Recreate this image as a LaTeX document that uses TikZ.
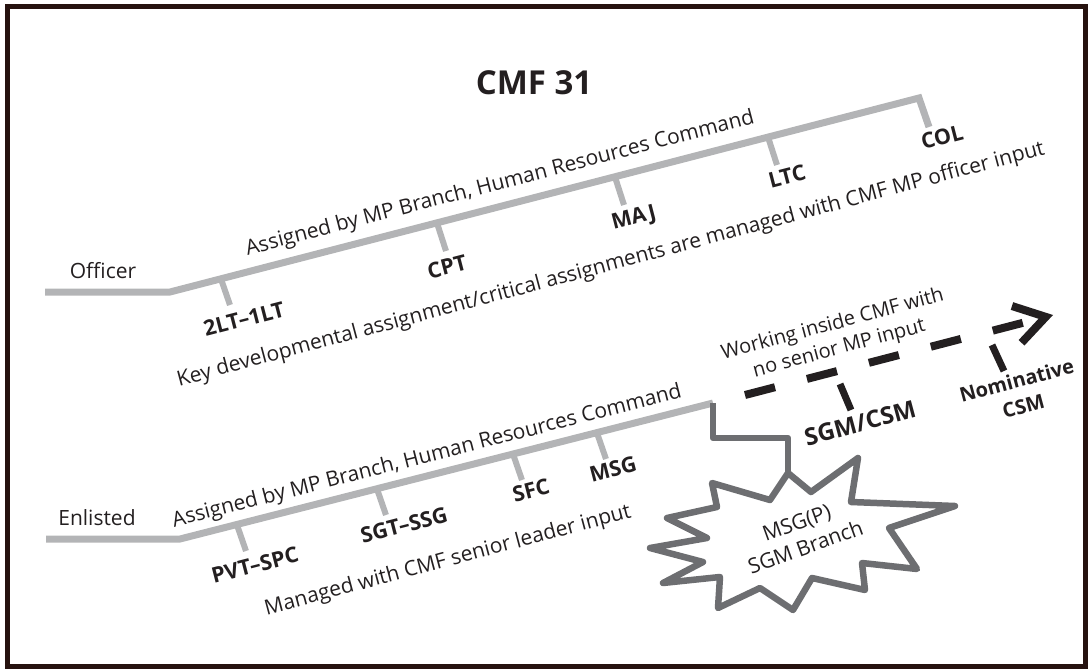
\documentclass[tikz,border=0pt]{standalone}
\usepackage{fontspec}
\setmainfont{Open Sans}
\usetikzlibrary{arrows.meta}
\definecolor{lgray}{HTML}{B3B4B6}
\definecolor{dgray}{HTML}{6D6E71}
\definecolor{ink}{HTML}{231F20}
\definecolor{frame}{HTML}{26120F}

\begin{document}
\begin{tikzpicture}[x=1pt,y=-1pt,
  track/.style={draw=lgray,line width=7pt},
  rung/.style={draw=lgray,line width=6pt},
  link/.style={draw=dgray,line width=6.5pt,line join=round},
  dashline/.style={draw=ink,line width=8pt,dash pattern=on 31pt off 33pt},
  rank/.style={font=\bfseries\fontsize{21.5}{26}\selectfont,text=ink,align=center},
  note/.style={font=\fontsize{21}{25}\selectfont,text=ink,align=center}]
\tikzstyle{every node}+=[inner sep=0pt]
\useasboundingbox (0,0) rectangle (1088,669);
\draw [frame,line width=5pt] (7.5,6.5) rectangle (1085.5,666);

\node [font=\bfseries\fontsize{33}{40}\selectfont,text=ink] (title) at (534,83) {CMF 31};

% officer track
\coordinate (o0) at (45,292);
\coordinate (o1) at (170,292);
\coordinate (o2) at (919,98);
\coordinate (o3) at (929,127);
\draw [track] (o0) -- (o1) -- (o2) -- (o3);
\coordinate (t2lt) at (221,279);
\coordinate (tcpt) at (437,223);
\coordinate (tmaj) at (615,177);
\coordinate (tltc) at (768,137);
\draw [rung] (t2lt) -- ++(9,26);
\draw [rung] (tcpt) -- ++(9,28);
\draw [rung] (tmaj) -- ++(9,28);
\draw [rung] (tltc) -- ++(9,28);
\node [note] (officer) at (103,271) {Officer};
\node [note,rotate=14.6] (offhrc) at (500,184) {Assigned by MP Branch, Human Resources Command};
\node [note,rotate=15] (offkey) at (611,265) {Key developmental assignment/critical assignments are managed with CMF MP officer input};
\node [rank,rotate=14.5] (l2lt) at (244,319) {2LT--1LT};
\node [rank,rotate=14.5] (lcpt) at (447,267) {CPT};
\node [rank,rotate=14.5] (lmaj) at (634,219) {MAJ};
\node [rank,rotate=14.5] (lltc) at (787,176) {LTC};
\node [rank,rotate=14.5] (lcol) at (942,137) {COL};

% enlisted track
\coordinate (e0) at (46,539);
\coordinate (e1) at (180,539);
\coordinate (e2) at (713,403);
\draw [track] (e0) -- (e1) -- (e2);
\coordinate (tpvt) at (237,525);
\coordinate (tsgt) at (377,489);
\coordinate (tsfc) at (513,454);
\coordinate (tmsg) at (597,433);
\draw [rung] (tpvt) -- ++(9,26);
\draw [rung] (tsgt) -- ++(9,26);
\draw [rung] (tsfc) -- ++(9,26);
\draw [rung] (tmsg) -- ++(9,26);
\node [note] (enlisted) at (97,518) {Enlisted};
\node [note,rotate=14.3] (enlhrc) at (427,457) {Assigned by MP Branch, Human Resources Command};
\node [note,rotate=15] (enlcmf) at (448,561) {Managed with CMF senior leader input};
\node [rank,rotate=14.5] (lpvt) at (255,565) {PVT--SPC};
\node [rank,rotate=14.5] (lsgt) at (404,525) {SGT--SSG};
\node [rank,rotate=14.5] (lsfc) at (531,490) {SFC};
\node [rank,rotate=14.5] (lmsg) at (613,469) {MSG};

% SGM branch
\coordinate (c1) at (713,438);
\coordinate (c2) at (788,438);
\coordinate (star) at (788,473);
\draw [link] (e2) -- (c1) -- (c2) -- (star);
\draw [link,fill=white] (star) -- (811,492) -- (858,458) -- (851,502) -- (955,506)
  -- (889,528) -- (917,569) -- (862,563) -- (865,590) -- (812,578) -- (793,610)
  -- (760,588) -- (718,608) -- (720,577) -- (663,583) -- (703,562) -- (650,548)
  -- (707,538) -- (667,518) -- (717,507) -- (712,483) -- (770,500) -- cycle;
\node [note,font=\fontsize{21}{26}\selectfont,rotate=20] (burst) at (801,535) {MSG(P)\\SGM Branch};

% dashed path to CSM
\coordinate (d0) at (745,395);
\coordinate (d1) at (1053,315);
\draw [dashline,-{Straight Barb[length=30pt,width=38pt]}] (d0) -- (d1);
\coordinate (tsgm) at (840,384);
\coordinate (tnom) at (992,345);
\draw [ink,line width=7pt] (tsgm) -- ++(11,26);
\draw [ink,line width=7pt] (tnom) -- ++(12,26);
\node [note,font=\fontsize{20}{25}\selectfont,rotate=15] (work) at (836,337) {Working inside CMF with\\no senior MP input};
\node [rank,font=\bfseries\fontsize{24}{26}\selectfont,rotate=15] (lsgm) at (860,423) {SGM/CSM};
\node [rank,font=\bfseries\fontsize{20}{26}\selectfont,rotate=15] (lnom) at (1020,393) {Nominative\\CSM};
\end{tikzpicture}
\end{document}
